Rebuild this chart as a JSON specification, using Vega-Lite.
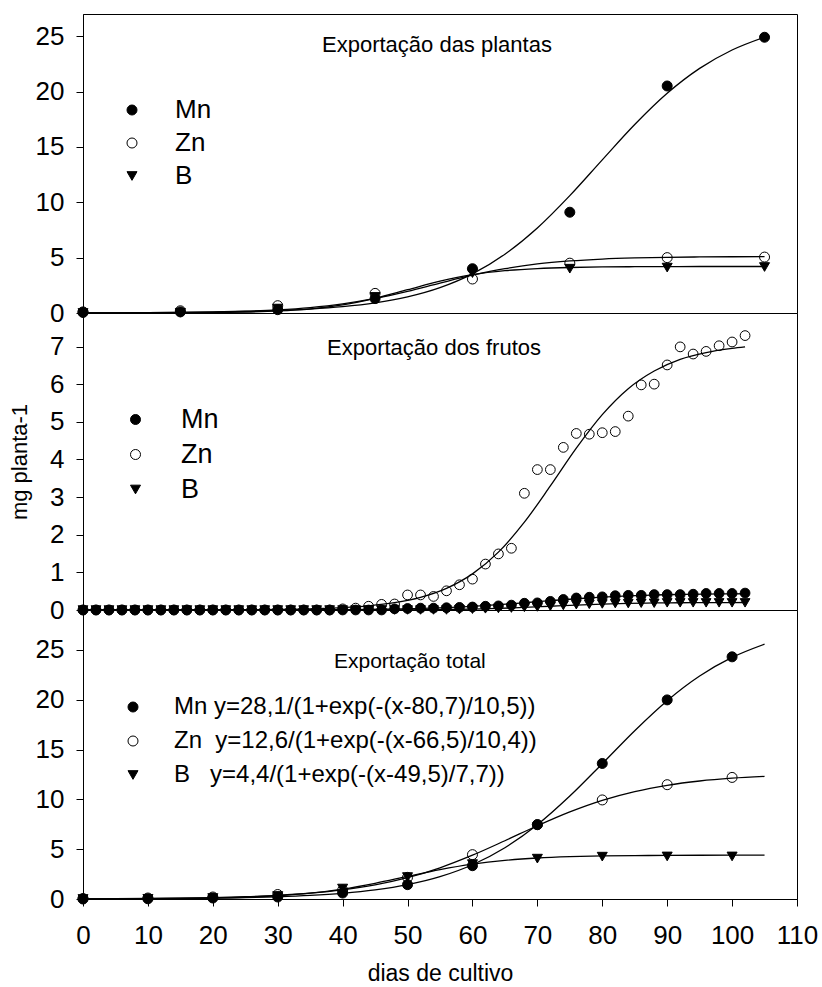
{
  "$schema": "https://vega.github.io/schema/vega-lite/v6.json",
  "autosize": {"type": "pad"},
  "padding": {"left": 8, "top": 13, "right": 0, "bottom": 2},
  "background": "white",
  "bounds": "flush",
  "spacing": 0,
  "config": {
    "font": "Liberation Sans",
    "view": {"stroke": "black", "strokeWidth": 1},
    "axis": {"labelFont": "Liberation Sans", "titleFont": "Liberation Sans", "labelColor": "black", "titleColor": "black", "domainColor": "black", "tickColor": "black", "grid": false, "labelFontSize": 26, "titleFontWeight": "normal", "tickSize": 7, "domainWidth": 1, "tickWidth": 1, "labelFlush": false, "labelOverlap": false},
    "legend": {"labelFont": "Liberation Sans", "labelColor": "black", "symbolStrokeColor": "black", "symbolStrokeWidth": 1, "padding": 0, "labelLimit": 800},
    "title": {"font": "Liberation Sans", "fontSize": 22, "fontWeight": "normal", "color": "black", "anchor": "start", "frame": "group", "baseline": "alphabetic"}
  },
  "datasets": {
    "pt_top": [
      {"d":0,"v":0.1,"el":"Zn"},{"d":15,"v":0.2,"el":"Zn"},{"d":30,"v":0.66,"el":"Zn"},{"d":45,"v":1.77,"el":"Zn"},{"d":60,"v":3.07,"el":"Zn"},{"d":75,"v":4.5,"el":"Zn"},{"d":90,"v":5.0,"el":"Zn"},{"d":105,"v":5.05,"el":"Zn"},
      {"d":0,"v":0.05,"el":"Mn"},{"d":15,"v":0.1,"el":"Mn"},{"d":30,"v":0.3,"el":"Mn"},{"d":45,"v":1.3,"el":"Mn"},{"d":60,"v":4.0,"el":"Mn"},{"d":75,"v":9.1,"el":"Mn"},{"d":90,"v":20.5,"el":"Mn"},{"d":105,"v":24.9,"el":"Mn"},
      {"d":0,"v":0,"el":"B"},{"d":15,"v":0.02,"el":"B"},{"d":30,"v":0.4,"el":"B"},{"d":45,"v":1.45,"el":"B"},{"d":60,"v":3.6,"el":"B"},{"d":75,"v":4.0,"el":"B"},{"d":90,"v":4.1,"el":"B"},{"d":105,"v":4.15,"el":"B"}
    ],
    "cv_top": [
      {"d":0,"v":0.012,"el":"Mn"},{"d":5,"v":0.02,"el":"Mn"},{"d":10,"v":0.032,"el":"Mn"},{"d":15,"v":0.052,"el":"Mn"},{"d":20,"v":0.083,"el":"Mn"},{"d":25,"v":0.136,"el":"Mn"},{"d":30,"v":0.219,"el":"Mn"},{"d":35,"v":0.354,"el":"Mn"},{"d":40,"v":0.571,"el":"Mn"},{"d":45,"v":0.915,"el":"Mn"},{"d":50,"v":1.457,"el":"Mn"},{"d":55,"v":2.29,"el":"Mn"},{"d":60,"v":3.53,"el":"Mn"},{"d":65,"v":5.31,"el":"Mn"},{"d":70,"v":7.68,"el":"Mn"},{"d":75,"v":10.6,"el":"Mn"},{"d":80,"v":13.83,"el":"Mn"},{"d":85,"v":17.02,"el":"Mn"},{"d":90,"v":19.84,"el":"Mn"},{"d":95,"v":22.09,"el":"Mn"},{"d":100,"v":23.75,"el":"Mn"},{"d":105,"v":24.91,"el":"Mn"},
      {"d":0,"v":0.009,"el":"Zn"},{"d":5,"v":0.016,"el":"Zn"},{"d":10,"v":0.029,"el":"Zn"},{"d":15,"v":0.051,"el":"Zn"},{"d":20,"v":0.092,"el":"Zn"},{"d":25,"v":0.163,"el":"Zn"},{"d":30,"v":0.287,"el":"Zn"},{"d":35,"v":0.493,"el":"Zn"},{"d":40,"v":0.824,"el":"Zn"},{"d":45,"v":1.314,"el":"Zn"},{"d":50,"v":1.96,"el":"Zn"},{"d":55,"v":2.7,"el":"Zn"},{"d":60,"v":3.41,"el":"Zn"},{"d":65,"v":4.0,"el":"Zn"},{"d":70,"v":4.43,"el":"Zn"},{"d":75,"v":4.7,"el":"Zn"},{"d":80,"v":4.87,"el":"Zn"},{"d":85,"v":4.97,"el":"Zn"},{"d":90,"v":5.03,"el":"Zn"},{"d":95,"v":5.06,"el":"Zn"},{"d":100,"v":5.08,"el":"Zn"},{"d":105,"v":5.09,"el":"Zn"},
      {"d":0,"v":0.002,"el":"B"},{"d":5,"v":0.004,"el":"B"},{"d":10,"v":0.009,"el":"B"},{"d":15,"v":0.019,"el":"B"},{"d":20,"v":0.041,"el":"B"},{"d":25,"v":0.088,"el":"B"},{"d":30,"v":0.185,"el":"B"},{"d":35,"v":0.38,"el":"B"},{"d":40,"v":0.742,"el":"B"},{"d":45,"v":1.33,"el":"B"},{"d":50,"v":2.1,"el":"B"},{"d":55,"v":2.87,"el":"B"},{"d":60,"v":3.46,"el":"B"},{"d":65,"v":3.82,"el":"B"},{"d":70,"v":4.01,"el":"B"},{"d":75,"v":4.11,"el":"B"},{"d":80,"v":4.16,"el":"B"},{"d":85,"v":4.18,"el":"B"},{"d":90,"v":4.19,"el":"B"},{"d":95,"v":4.2,"el":"B"},{"d":100,"v":4.2,"el":"B"},{"d":105,"v":4.2,"el":"B"}
    ],
    "pt_mid": [
      {"d":0,"v":0,"el":"Zn"},{"d":2,"v":0,"el":"Zn"},{"d":4,"v":0,"el":"Zn"},{"d":6,"v":0,"el":"Zn"},{"d":8,"v":0,"el":"Zn"},{"d":10,"v":0,"el":"Zn"},{"d":12,"v":0,"el":"Zn"},{"d":14,"v":0,"el":"Zn"},{"d":16,"v":0,"el":"Zn"},{"d":18,"v":0,"el":"Zn"},{"d":20,"v":0,"el":"Zn"},{"d":22,"v":0,"el":"Zn"},{"d":24,"v":0,"el":"Zn"},{"d":26,"v":0,"el":"Zn"},{"d":28,"v":0,"el":"Zn"},{"d":30,"v":0,"el":"Zn"},{"d":32,"v":0,"el":"Zn"},{"d":34,"v":0,"el":"Zn"},{"d":36,"v":0,"el":"Zn"},{"d":38,"v":0,"el":"Zn"},{"d":40,"v":0.03,"el":"Zn"},{"d":42,"v":0.05,"el":"Zn"},{"d":44,"v":0.1,"el":"Zn"},{"d":46,"v":0.15,"el":"Zn"},{"d":48,"v":0.16,"el":"Zn"},{"d":50,"v":0.4,"el":"Zn"},{"d":52,"v":0.4,"el":"Zn"},{"d":54,"v":0.36,"el":"Zn"},{"d":56,"v":0.51,"el":"Zn"},{"d":58,"v":0.67,"el":"Zn"},{"d":60,"v":0.82,"el":"Zn"},{"d":62,"v":1.22,"el":"Zn"},{"d":64,"v":1.49,"el":"Zn"},{"d":66,"v":1.64,"el":"Zn"},{"d":68,"v":3.1,"el":"Zn"},{"d":70,"v":3.73,"el":"Zn"},{"d":72,"v":3.73,"el":"Zn"},{"d":74,"v":4.32,"el":"Zn"},{"d":76,"v":4.69,"el":"Zn"},{"d":78,"v":4.67,"el":"Zn"},{"d":80,"v":4.71,"el":"Zn"},{"d":82,"v":4.74,"el":"Zn"},{"d":84,"v":5.15,"el":"Zn"},{"d":86,"v":5.98,"el":"Zn"},{"d":88,"v":6.0,"el":"Zn"},{"d":90,"v":6.51,"el":"Zn"},{"d":92,"v":6.99,"el":"Zn"},{"d":94,"v":6.8,"el":"Zn"},{"d":96,"v":6.87,"el":"Zn"},{"d":98,"v":7.02,"el":"Zn"},{"d":100,"v":7.12,"el":"Zn"},{"d":102,"v":7.29,"el":"Zn"},
      {"d":0,"v":0,"el":"Mn"},{"d":2,"v":0,"el":"Mn"},{"d":4,"v":0,"el":"Mn"},{"d":6,"v":0,"el":"Mn"},{"d":8,"v":0,"el":"Mn"},{"d":10,"v":0,"el":"Mn"},{"d":12,"v":0,"el":"Mn"},{"d":14,"v":0,"el":"Mn"},{"d":16,"v":0,"el":"Mn"},{"d":18,"v":0,"el":"Mn"},{"d":20,"v":0,"el":"Mn"},{"d":22,"v":0,"el":"Mn"},{"d":24,"v":0,"el":"Mn"},{"d":26,"v":0,"el":"Mn"},{"d":28,"v":0,"el":"Mn"},{"d":30,"v":0,"el":"Mn"},{"d":32,"v":0,"el":"Mn"},{"d":34,"v":0,"el":"Mn"},{"d":36,"v":0,"el":"Mn"},{"d":38,"v":0,"el":"Mn"},{"d":40,"v":0,"el":"Mn"},{"d":42,"v":0,"el":"Mn"},{"d":44,"v":0,"el":"Mn"},{"d":46,"v":0,"el":"Mn"},{"d":48,"v":0.03,"el":"Mn"},{"d":50,"v":0.04,"el":"Mn"},{"d":52,"v":0.05,"el":"Mn"},{"d":54,"v":0.05,"el":"Mn"},{"d":56,"v":0.06,"el":"Mn"},{"d":58,"v":0.07,"el":"Mn"},{"d":60,"v":0.08,"el":"Mn"},{"d":62,"v":0.1,"el":"Mn"},{"d":64,"v":0.11,"el":"Mn"},{"d":66,"v":0.13,"el":"Mn"},{"d":68,"v":0.18,"el":"Mn"},{"d":70,"v":0.19,"el":"Mn"},{"d":72,"v":0.23,"el":"Mn"},{"d":74,"v":0.28,"el":"Mn"},{"d":76,"v":0.32,"el":"Mn"},{"d":78,"v":0.34,"el":"Mn"},{"d":80,"v":0.35,"el":"Mn"},{"d":82,"v":0.38,"el":"Mn"},{"d":84,"v":0.39,"el":"Mn"},{"d":86,"v":0.39,"el":"Mn"},{"d":88,"v":0.41,"el":"Mn"},{"d":90,"v":0.41,"el":"Mn"},{"d":92,"v":0.41,"el":"Mn"},{"d":94,"v":0.42,"el":"Mn"},{"d":96,"v":0.44,"el":"Mn"},{"d":98,"v":0.44,"el":"Mn"},{"d":100,"v":0.44,"el":"Mn"},{"d":102,"v":0.45,"el":"Mn"},
      {"d":0,"v":0,"el":"B"},{"d":2,"v":0,"el":"B"},{"d":4,"v":0,"el":"B"},{"d":6,"v":0,"el":"B"},{"d":8,"v":0,"el":"B"},{"d":10,"v":0,"el":"B"},{"d":12,"v":0,"el":"B"},{"d":14,"v":0,"el":"B"},{"d":16,"v":0,"el":"B"},{"d":18,"v":0,"el":"B"},{"d":20,"v":0,"el":"B"},{"d":22,"v":0,"el":"B"},{"d":24,"v":0,"el":"B"},{"d":26,"v":0,"el":"B"},{"d":28,"v":0,"el":"B"},{"d":30,"v":0,"el":"B"},{"d":32,"v":0,"el":"B"},{"d":34,"v":0,"el":"B"},{"d":36,"v":0,"el":"B"},{"d":38,"v":0,"el":"B"},{"d":40,"v":0,"el":"B"},{"d":42,"v":0,"el":"B"},{"d":44,"v":0,"el":"B"},{"d":46,"v":0,"el":"B"},{"d":48,"v":0,"el":"B"},{"d":50,"v":0,"el":"B"},{"d":52,"v":0,"el":"B"},{"d":54,"v":0,"el":"B"},{"d":56,"v":0,"el":"B"},{"d":58,"v":0.01,"el":"B"},{"d":60,"v":0.02,"el":"B"},{"d":62,"v":0.03,"el":"B"},{"d":64,"v":0.04,"el":"B"},{"d":66,"v":0.05,"el":"B"},{"d":68,"v":0.07,"el":"B"},{"d":70,"v":0.08,"el":"B"},{"d":72,"v":0.1,"el":"B"},{"d":74,"v":0.12,"el":"B"},{"d":76,"v":0.14,"el":"B"},{"d":78,"v":0.15,"el":"B"},{"d":80,"v":0.16,"el":"B"},{"d":82,"v":0.17,"el":"B"},{"d":84,"v":0.17,"el":"B"},{"d":86,"v":0.18,"el":"B"},{"d":88,"v":0.18,"el":"B"},{"d":90,"v":0.19,"el":"B"},{"d":92,"v":0.19,"el":"B"},{"d":94,"v":0.19,"el":"B"},{"d":96,"v":0.19,"el":"B"},{"d":98,"v":0.19,"el":"B"},{"d":100,"v":0.19,"el":"B"},{"d":102,"v":0.19,"el":"B"}
    ],
    "cv_mid": [
      {"d":0,"v":0.0002,"el":"Zn"},{"d":10,"v":0.0009,"el":"Zn"},{"d":20,"v":0.0037,"el":"Zn"},{"d":30,"v":0.0153,"el":"Zn"},{"d":36,"v":0.0358,"el":"Zn"},{"d":40,"v":0.063,"el":"Zn"},{"d":44,"v":0.111,"el":"Zn"},{"d":48,"v":0.194,"el":"Zn"},{"d":52,"v":0.337,"el":"Zn"},{"d":56,"v":0.575,"el":"Zn"},{"d":60,"v":0.959,"el":"Zn"},{"d":64,"v":1.537,"el":"Zn"},{"d":68,"v":2.333,"el":"Zn"},{"d":72,"v":3.296,"el":"Zn"},{"d":76,"v":4.3,"el":"Zn"},{"d":80,"v":5.19,"el":"Zn"},{"d":84,"v":5.88,"el":"Zn"},{"d":88,"v":6.35,"el":"Zn"},{"d":92,"v":6.66,"el":"Zn"},{"d":96,"v":6.84,"el":"Zn"},{"d":100,"v":6.95,"el":"Zn"},{"d":102,"v":6.99,"el":"Zn"},
      {"d":0,"v":0.0001,"el":"Mn"},{"d":20,"v":0.0009,"el":"Mn"},{"d":30,"v":0.003,"el":"Mn"},{"d":40,"v":0.01,"el":"Mn"},{"d":50,"v":0.033,"el":"Mn"},{"d":56,"v":0.065,"el":"Mn"},{"d":60,"v":0.098,"el":"Mn"},{"d":64,"v":0.141,"el":"Mn"},{"d":68,"v":0.193,"el":"Mn"},{"d":72,"v":0.247,"el":"Mn"},{"d":76,"v":0.299,"el":"Mn"},{"d":80,"v":0.342,"el":"Mn"},{"d":84,"v":0.375,"el":"Mn"},{"d":88,"v":0.398,"el":"Mn"},{"d":92,"v":0.414,"el":"Mn"},{"d":96,"v":0.424,"el":"Mn"},{"d":100,"v":0.43,"el":"Mn"},{"d":102,"v":0.432,"el":"Mn"},
      {"d":0,"v":0,"el":"B"},{"d":40,"v":0.001,"el":"B"},{"d":50,"v":0.005,"el":"B"},{"d":56,"v":0.013,"el":"B"},{"d":60,"v":0.024,"el":"B"},{"d":64,"v":0.042,"el":"B"},{"d":68,"v":0.068,"el":"B"},{"d":72,"v":0.1,"el":"B"},{"d":76,"v":0.132,"el":"B"},{"d":80,"v":0.158,"el":"B"},{"d":84,"v":0.176,"el":"B"},{"d":88,"v":0.187,"el":"B"},{"d":92,"v":0.193,"el":"B"},{"d":96,"v":0.196,"el":"B"},{"d":100,"v":0.198,"el":"B"},{"d":102,"v":0.199,"el":"B"}
    ],
    "pt_bot": [
      {"d":0,"v":0.05,"el":"Zn"},{"d":10,"v":0.1,"el":"Zn"},{"d":20,"v":0.2,"el":"Zn"},{"d":30,"v":0.45,"el":"Zn"},{"d":40,"v":0.9,"el":"Zn"},{"d":50,"v":2.17,"el":"Zn"},{"d":60,"v":4.45,"el":"Zn"},{"d":70,"v":7.46,"el":"Zn"},{"d":80,"v":9.94,"el":"Zn"},{"d":90,"v":11.47,"el":"Zn"},{"d":100,"v":12.2,"el":"Zn"},
      {"d":0,"v":0,"el":"Mn"},{"d":10,"v":0.02,"el":"Mn"},{"d":20,"v":0.1,"el":"Mn"},{"d":30,"v":0.2,"el":"Mn"},{"d":40,"v":0.6,"el":"Mn"},{"d":50,"v":1.44,"el":"Mn"},{"d":60,"v":3.34,"el":"Mn"},{"d":70,"v":7.46,"el":"Mn"},{"d":80,"v":13.6,"el":"Mn"},{"d":90,"v":19.98,"el":"Mn"},{"d":100,"v":24.3,"el":"Mn"},
      {"d":0,"v":0,"el":"B"},{"d":10,"v":0.02,"el":"B"},{"d":20,"v":0.1,"el":"B"},{"d":30,"v":0.3,"el":"B"},{"d":40,"v":1.05,"el":"B"},{"d":50,"v":2.2,"el":"B"},{"d":60,"v":3.5,"el":"B"},{"d":70,"v":4.05,"el":"B"},{"d":80,"v":4.25,"el":"B"},{"d":90,"v":4.27,"el":"B"},{"d":100,"v":4.27,"el":"B"}
    ],
    "cv_bot": [
      {"d":0,"v":0.0129,"el":"Mn"},{"d":5,"v":0.0208,"el":"Mn"},{"d":10,"v":0.0334,"el":"Mn"},{"d":15,"v":0.0538,"el":"Mn"},{"d":20,"v":0.0865,"el":"Mn"},{"d":25,"v":0.139,"el":"Mn"},{"d":30,"v":0.223,"el":"Mn"},{"d":35,"v":0.357,"el":"Mn"},{"d":40,"v":0.571,"el":"Mn"},{"d":45,"v":0.908,"el":"Mn"},{"d":50,"v":1.433,"el":"Mn"},{"d":55,"v":2.237,"el":"Mn"},{"d":60,"v":3.435,"el":"Mn"},{"d":65,"v":5.147,"el":"Mn"},{"d":70,"v":7.454,"el":"Mn"},{"d":75,"v":10.33,"el":"Mn"},{"d":80,"v":13.58,"el":"Mn"},{"d":85,"v":16.89,"el":"Mn"},{"d":90,"v":19.9,"el":"Mn"},{"d":95,"v":22.37,"el":"Mn"},{"d":100,"v":24.24,"el":"Mn"},{"d":105,"v":25.57,"el":"Mn"},
      {"d":0,"v":0.021,"el":"Zn"},{"d":5,"v":0.034,"el":"Zn"},{"d":10,"v":0.0548,"el":"Zn"},{"d":15,"v":0.0884,"el":"Zn"},{"d":20,"v":0.1424,"el":"Zn"},{"d":25,"v":0.2287,"el":"Zn"},{"d":30,"v":0.366,"el":"Zn"},{"d":35,"v":0.581,"el":"Zn"},{"d":40,"v":0.914,"el":"Zn"},{"d":45,"v":1.415,"el":"Zn"},{"d":50,"v":2.14,"el":"Zn"},{"d":55,"v":3.133,"el":"Zn"},{"d":60,"v":4.393,"el":"Zn"},{"d":65,"v":5.847,"el":"Zn"},{"d":70,"v":7.35,"el":"Zn"},{"d":75,"v":8.74,"el":"Zn"},{"d":80,"v":9.9,"el":"Zn"},{"d":85,"v":10.78,"el":"Zn"},{"d":90,"v":11.41,"el":"Zn"},{"d":95,"v":11.84,"el":"Zn"},{"d":100,"v":12.12,"el":"Zn"},{"d":105,"v":12.3,"el":"Zn"},
      {"d":0,"v":0.0071,"el":"B"},{"d":5,"v":0.0136,"el":"B"},{"d":10,"v":0.0259,"el":"B"},{"d":15,"v":0.0493,"el":"B"},{"d":20,"v":0.0934,"el":"B"},{"d":25,"v":0.1753,"el":"B"},{"d":30,"v":0.324,"el":"B"},{"d":35,"v":0.581,"el":"B"},{"d":40,"v":0.992,"el":"B"},{"d":45,"v":1.575,"el":"B"},{"d":50,"v":2.271,"el":"B"},{"d":55,"v":2.954,"el":"B"},{"d":60,"v":3.504,"el":"B"},{"d":65,"v":3.881,"el":"B"},{"d":70,"v":4.113,"el":"B"},{"d":75,"v":4.245,"el":"B"},{"d":80,"v":4.318,"el":"B"},{"d":85,"v":4.357,"el":"B"},{"d":90,"v":4.377,"el":"B"},{"d":95,"v":4.388,"el":"B"},{"d":100,"v":4.394,"el":"B"},{"d":105,"v":4.397,"el":"B"}
    ]
  },
  "resolve": {
    "scale": {"x": "independent", "y": "independent", "shape": "independent", "fill": "independent", "stroke": "independent"},
    "legend": {"shape": "independent", "fill": "independent", "stroke": "independent"}
  },
  "vconcat": [
    {
      "width": 714, "height": 299,
      "title": {"text": "Exportação das plantas", "offset": -42.5, "dx": 239},
      "layer": [
        {
          "data": {"name": "pt_top"},
          "mark": {"type": "point", "filled": true, "strokeWidth": 1, "opacity": 1, "size": 100},
          "encoding": {
            "x": {"field": "d", "type": "quantitative", "scale": {"domain": [0, 110], "nice": false, "zero": false}, "axis": null},
            "y": {"field": "v", "type": "quantitative", "scale": {"domain": [0, 27], "nice": false}, "axis": {"values": [0, 5, 10, 15, 20, 25], "title": null, "labelPadding": 12}},
            "shape": {"field": "el", "type": "nominal", "scale": {"domain": ["Mn", "Zn", "B"], "range": ["circle", "circle", "triangle-down"]}, "legend": {"orient": "none", "legendX": 36, "legendY": 83, "title": null, "labelFontSize": 26, "labelOffset": 30, "rowPadding": 7, "symbolSize": 100}},
            "fill": {"field": "el", "type": "nominal", "scale": {"domain": ["Mn", "Zn", "B"], "range": ["black", "white", "black"]}, "legend": {"orient": "none", "legendX": 36, "legendY": 83, "title": null, "labelFontSize": 26, "labelOffset": 30, "rowPadding": 7, "symbolSize": 100}},
            "stroke": {"field": "el", "type": "nominal", "scale": {"domain": ["Mn", "Zn", "B"], "range": ["black", "black", "black"]}, "legend": {"orient": "none", "legendX": 36, "legendY": 83, "title": null, "labelFontSize": 26, "labelOffset": 30, "rowPadding": 7, "symbolSize": 100}}
          }
        },
        {
          "data": {"name": "cv_top"},
          "mark": {"type": "line", "color": "black", "strokeWidth": 1.3, "interpolate": "monotone"},
          "encoding": {
            "x": {"field": "d", "type": "quantitative"},
            "y": {"field": "v", "type": "quantitative"},
            "detail": {"field": "el", "type": "nominal"}
          }
        }
      ]
    },
    {
      "width": 714, "height": 297,
      "title": {"text": "Exportação dos frutos", "offset": -47, "dx": 244},
      "layer": [
        {
          "data": {"name": "pt_mid"},
          "mark": {"type": "point", "filled": true, "strokeWidth": 1, "opacity": 1, "size": 95},
          "encoding": {
            "x": {"field": "d", "type": "quantitative", "scale": {"domain": [0, 110], "nice": false, "zero": false}, "axis": null},
            "y": {"field": "v", "type": "quantitative", "scale": {"domain": [0, 7.89], "nice": false}, "axis": {"values": [0, 1, 2, 3, 4, 5, 6, 7], "title": "mg planta-1", "titleFontSize": 22, "titlePadding": 18, "labelPadding": 12}},
            "shape": {"field": "el", "type": "nominal", "scale": {"domain": ["Mn", "Zn", "B"], "range": ["circle", "circle", "triangle-down"]}, "legend": {"orient": "none", "legendX": 39, "legendY": 93, "title": null, "labelFontSize": 27, "labelOffset": 32, "rowPadding": 7, "symbolSize": 100}},
            "fill": {"field": "el", "type": "nominal", "scale": {"domain": ["Mn", "Zn", "B"], "range": ["black", "white", "black"]}, "legend": {"orient": "none", "legendX": 39, "legendY": 93, "title": null, "labelFontSize": 27, "labelOffset": 32, "rowPadding": 7, "symbolSize": 100}},
            "stroke": {"field": "el", "type": "nominal", "scale": {"domain": ["Mn", "Zn", "B"], "range": ["black", "black", "black"]}, "legend": {"orient": "none", "legendX": 39, "legendY": 93, "title": null, "labelFontSize": 27, "labelOffset": 32, "rowPadding": 7, "symbolSize": 100}}
          }
        },
        {
          "data": {"name": "cv_mid"},
          "mark": {"type": "line", "color": "black", "strokeWidth": 1.3, "interpolate": "monotone"},
          "encoding": {
            "x": {"field": "d", "type": "quantitative"},
            "y": {"field": "v", "type": "quantitative"},
            "detail": {"field": "el", "type": "nominal"}
          }
        }
      ]
    },
    {
      "width": 714, "height": 289,
      "title": {"text": "Exportação total", "offset": -62, "dx": 251, "fontSize": 21},
      "layer": [
        {
          "data": {"name": "pt_bot"},
          "mark": {"type": "point", "filled": true, "strokeWidth": 1, "opacity": 1, "size": 100},
          "encoding": {
            "x": {"field": "d", "type": "quantitative", "scale": {"domain": [0, 110], "nice": false, "zero": false}, "axis": {"values": [0, 10, 20, 30, 40, 50, 60, 70, 80, 90, 100, 110], "title": "dias de cultivo", "titleFontSize": 23, "titlePadding": 14, "labelPadding": 16, "tickSize": 7}},
            "y": {"field": "v", "type": "quantitative", "scale": {"domain": [0, 29], "nice": false}, "axis": {"values": [0, 5, 10, 15, 20, 25], "title": null, "labelPadding": 12}},
            "shape": {"field": "el", "type": "nominal", "scale": {"domain": ["Mn", "Zn", "B"], "range": ["circle", "circle", "triangle-down"]}, "legend": {"orient": "none", "legendX": 38, "legendY": 85, "title": null, "labelFontSize": 24, "labelOffset": 29, "rowPadding": 10, "symbolSize": 100, "labelExpr": "datum.label == 'Mn' ? 'Mn y=28,1/(1+exp(-(x-80,7)/10,5))' : datum.label == 'Zn' ? 'Zn\u00a0\u00a0y=12,6/(1+exp(-(x-66,5)/10,4))' : 'B\u00a0\u00a0\u00a0y=4,4/(1+exp(-(x-49,5)/7,7))'"}},
            "fill": {"field": "el", "type": "nominal", "scale": {"domain": ["Mn", "Zn", "B"], "range": ["black", "white", "black"]}, "legend": {"orient": "none", "legendX": 38, "legendY": 85, "title": null, "labelFontSize": 24, "labelOffset": 29, "rowPadding": 10, "symbolSize": 100, "labelExpr": "datum.label == 'Mn' ? 'Mn y=28,1/(1+exp(-(x-80,7)/10,5))' : datum.label == 'Zn' ? 'Zn\u00a0\u00a0y=12,6/(1+exp(-(x-66,5)/10,4))' : 'B\u00a0\u00a0\u00a0y=4,4/(1+exp(-(x-49,5)/7,7))'"}},
            "stroke": {"field": "el", "type": "nominal", "scale": {"domain": ["Mn", "Zn", "B"], "range": ["black", "black", "black"]}, "legend": {"orient": "none", "legendX": 38, "legendY": 85, "title": null, "labelFontSize": 24, "labelOffset": 29, "rowPadding": 10, "symbolSize": 100, "labelExpr": "datum.label == 'Mn' ? 'Mn y=28,1/(1+exp(-(x-80,7)/10,5))' : datum.label == 'Zn' ? 'Zn\u00a0\u00a0y=12,6/(1+exp(-(x-66,5)/10,4))' : 'B\u00a0\u00a0\u00a0y=4,4/(1+exp(-(x-49,5)/7,7))'"}}
          }
        },
        {
          "data": {"name": "cv_bot"},
          "mark": {"type": "line", "color": "black", "strokeWidth": 1.3, "interpolate": "monotone"},
          "encoding": {
            "x": {"field": "d", "type": "quantitative"},
            "y": {"field": "v", "type": "quantitative"},
            "detail": {"field": "el", "type": "nominal"}
          }
        }
      ]
    }
  ]
}
